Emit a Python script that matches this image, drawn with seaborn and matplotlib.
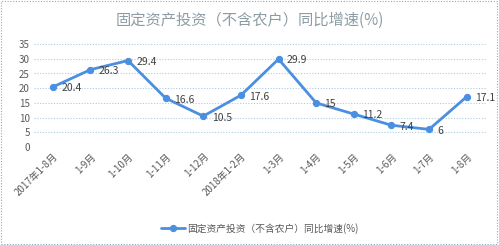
import matplotlib
matplotlib.use("Agg")
import matplotlib.pyplot as plt
import seaborn as sns
import pandas as pd
from matplotlib.patches import Rectangle

categories = ["2017年1-8月", "1-9月", "1-10月", "1-11月", "1-12月", "2018年1-2月",
              "1-3月", "1-4月", "1-5月", "1-6月", "1-7月", "1-8月"]
values = [20.4, 26.3, 29.4, 16.6, 10.5, 17.6, 29.9, 15, 11.2, 7.4, 6, 17.1]
value_labels = ["20.4", "26.3", "29.4", "16.6", "10.5", "17.6", "29.9", "15", "11.2", "7.4", "6", "17.1"]
series_name = "固定资产投资（不含农户）同比增速(%)"
title = "固定资产投资（不含农户）同比增速(%)"
yticks = [0, 5, 10, 15, 20, 25, 30, 35]

sns.set_theme(style="white")
plt.rcParams['font.family'] = ['Noto Sans CJK SC', 'DejaVu Sans']

df = pd.DataFrame({"x": range(len(categories)), "y": values})

fig = plt.figure(figsize=(4.99, 2.45), dpi=100)
ax = fig.add_axes([0.068, 0.40, 0.905, 0.42])

color = "#4a8fe0"
sns.lineplot(data=df, x="x", y="y", ax=ax, color=color, linewidth=2,
             marker="o", markersize=4.5, markeredgecolor=color, label=series_name)

for i, (v, t) in enumerate(zip(values, value_labels)):
    ax.annotate(t, (i, v), xytext=(6, -1), textcoords="offset points",
                fontsize=7.5, color="#404040", ha="left", va="center")

ax.set_xlim(-0.5, len(categories) - 0.5)
ax.set_ylim(0, 35)
ax.set_yticks(yticks)
ax.set_yticklabels([str(t) for t in yticks], fontsize=7, color="#595959")
ax.set_xticks(range(len(categories)))
ax.set_xticklabels(categories, rotation=45, ha="right", rotation_mode="anchor",
                   fontsize=7, color="#595959")
ax.tick_params(axis="both", length=0, pad=3)
ax.set_xlabel("")
ax.set_ylabel("")
for s in ax.spines.values():
    s.set_visible(False)
ax.yaxis.grid(True, linestyle=(0, (1, 1.5)), color="#a9cde0", linewidth=0.8)
ax.set_axisbelow(True)

fig.text(0.5, 0.915, title, ha="center", va="center", fontsize=11, color="#8c9ca4")

leg = ax.legend(loc="center", bbox_to_anchor=(0.5, -0.79), frameon=False,
                fontsize=7, handlelength=2.5, handletextpad=0.2)
for t in leg.get_texts():
    t.set_color("#595959")

fig.patches.append(Rectangle((0.002, 0.004), 0.994, 0.99, transform=fig.transFigure,
                             fill=False, edgecolor="#8fa8c0", linestyle=(0, (1, 1.5)),
                             linewidth=0.8))

fig.savefig("out.png", dpi=100, facecolor="white")
